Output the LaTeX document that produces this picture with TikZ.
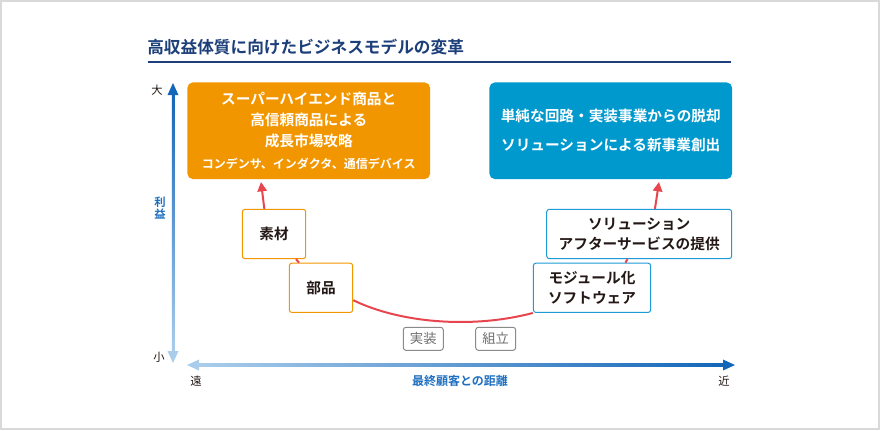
\documentclass[tikz,border=0pt]{standalone}
\usepackage{fontspec}
\setmainfont{Noto Sans CJK JP}[BoldFont={Noto Sans CJK JP Bold}]
\usetikzlibrary{arrows.meta,positioning}
\definecolor{framegray}{HTML}{D9D9D9}
\definecolor{titlenavy}{HTML}{1C3F7A}
\definecolor{orangebox}{HTML}{F29600}
\definecolor{bluebox}{HTML}{0099CE}
\definecolor{blueline}{HTML}{1E9BD7}
\definecolor{curvered}{HTML}{E8464F}
\definecolor{axisdark}{HTML}{1466B8}
\definecolor{axislight}{HTML}{AACDEB}
\definecolor{labelblue}{HTML}{1F6FBF}
\definecolor{textdark}{HTML}{231815}
\definecolor{taggray}{HTML}{8A8A8A}

\begin{document}
\begin{tikzpicture}[
  x=0.75pt, y=-0.75pt,
  every node/.style={inner sep=0pt, text=textdark},
  bigbox/.style={rounded corners=4pt, minimum width=182pt, minimum height=72.4pt,
    text=white, font=\fontsize{11}{15.75}\selectfont\bfseries, align=center},
  stagebox/.style={draw, line width=0.75pt, rounded corners=2pt, fill=white,
    minimum height=37pt, font=\fontsize{11}{15}\selectfont\bfseries, align=center},
  tagbox/.style={draw=taggray, line width=0.75pt, rounded corners=2pt, minimum width=30pt,
    minimum height=17.25pt, text=taggray!80!black, font=\fontsize{10}{12}\selectfont},
  axislabel/.style={font=\fontsize{8.5}{10}\selectfont},
  curve/.style={draw=curvered, line width=1.5pt},
  tip/.style={-{Triangle[width=7pt,length=7pt]}}
]
\useasboundingbox (0,0) rectangle (880,430);
\draw[framegray, line width=1.5pt] (0.75,0.75) rectangle (879.25,429.25);

% title
\node[anchor=west, text=titlenavy, font=\fontsize{12.5}{14}\selectfont\bfseries] (title) at (147,47)
  {高収益体質に向けたビジネスモデルの変革};
\draw[titlenavy, line width=1pt] (148,62) -- (731,62);

% axes
\shade[top color=axisdark, bottom color=axislight] (171.75,94) rectangle (174.25,352);
\fill[axisdark] (173,83) -- (167.5,95) -- (178.5,95) -- cycle;
\fill[axislight] (173,363) -- (167.5,351) -- (178.5,351) -- cycle;
\shade[left color=axislight, right color=axisdark] (198,363.75) rectangle (724,366.25);
\fill[axislight] (187,365) -- (199,359.5) -- (199,370.5) -- cycle;
\fill[axisdark] (735,365) -- (723,359.5) -- (723,370.5) -- cycle;

\node[axislabel] (big) at (157,90) {大};
\node[axislabel] (small) at (159,357) {小};
\node[axislabel] (far) at (196,381) {遠};
\node[axislabel] (near) at (724,381) {近};
\node[axislabel, text=labelblue, font=\fontsize{9}{10}\selectfont\bfseries] (distance) at (460,381) {最終顧客との距離};
\node[axislabel, text=labelblue, font=\fontsize{8.5}{8.5}\selectfont\bfseries, align=center] (profit) at (160,208) {利\\益};

% goal boxes
\node[bigbox, fill=orangebox] (highend) at (308.75,130.75)
  {スーパーハイエンド商品と\\高信頼商品による\\成長市場攻略\\[1pt]
   {\fontsize{9}{11}\selectfont コンデンサ、インダクタ、通信デバイス}};
\node[bigbox, fill=bluebox, font=\fontsize{11}{21.75}\selectfont\bfseries] (newbiz) at (610.75,130.75)
  {単純な回路・実装事業からの脱却\\ソリューションによる新事業創出};

% stages
\node[stagebox, draw=orangebox, minimum width=47.6pt] (sozai) at (274,234) {素材};
\node[stagebox, draw=orangebox, minimum width=47.6pt] (buhin) at (321,287.8) {部品};
\node[stagebox, draw=blueline, minimum width=88pt] (module) at (592,287.8) {モジュール化\\ソフトウェア};
\node[stagebox, draw=blueline, minimum width=138.75pt] (solution) at (639.2,234)
  {ソリューション\\アフターサービスの提供};
\node[tagbox] (jisso) at (423.3,338.8) {実装};
\node[tagbox] (kumitate) at (495.7,338.8) {組立};

% curve
\coordinate (tipL) at (261,182);
\coordinate (tipR) at (659,182);
\draw[curve, tip] (sozai.111) -- (tipL);
\draw[curve] (sozai) -- (buhin);
\draw[curve] (buhin.-21) .. controls (400,323) and (472,329) .. (module.south west);
\draw[curve] (module.37) -- (solution.-115);
\draw[curve, tip] (solution.58) -- (tipR);
\end{tikzpicture}
\end{document}
